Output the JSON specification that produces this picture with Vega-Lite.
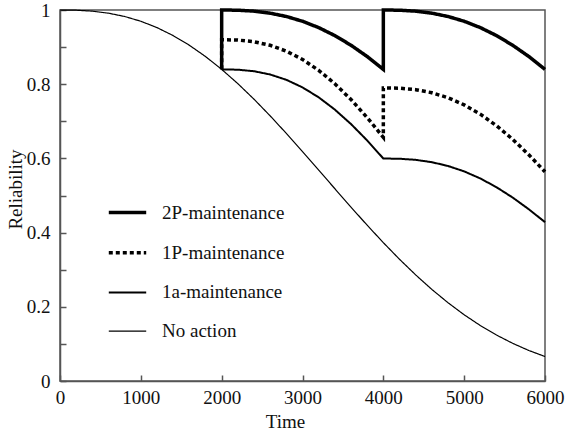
{
  "$schema": "https://vega.github.io/schema/vega-lite/v6.json",
  "autosize": "none",
  "width": 485,
  "height": 371,
  "padding": {"left": 60, "top": 10, "right": 27, "bottom": 58},
  "background": "white",
  "config": {
    "font": "Liberation Serif",
    "view": {"stroke": "#555", "strokeWidth": 1.5},
    "axis": {
      "labelFont": "Liberation Serif", "labelFontSize": 19, "labelColor": "#111",
      "titleFont": "Liberation Serif", "titleFontSize": 19, "titleFontWeight": "normal", "titleColor": "#111",
      "domainColor": "#555", "domainWidth": 1.5, "tickColor": "#555", "tickWidth": 1.5, "tickSize": -6, "grid": false
    }
  },
  "data": {"values": [
    {"series": "No action", "k": 0, "time": 0, "reliability": 1},
    {"series": "No action", "k": 1, "time": 200, "reliability": 0.99945},
    {"series": "No action", "k": 2, "time": 400, "reliability": 0.99689},
    {"series": "No action", "k": 3, "time": 600, "reliability": 0.99144},
    {"series": "No action", "k": 4, "time": 800, "reliability": 0.98251},
    {"series": "No action", "k": 5, "time": 1000, "reliability": 0.96965},
    {"series": "No action", "k": 6, "time": 1200, "reliability": 0.95254},
    {"series": "No action", "k": 7, "time": 1400, "reliability": 0.93101},
    {"series": "No action", "k": 8, "time": 1600, "reliability": 0.905},
    {"series": "No action", "k": 9, "time": 1800, "reliability": 0.8746},
    {"series": "No action", "k": 10, "time": 2000, "reliability": 0.84},
    {"series": "No action", "k": 11, "time": 2200, "reliability": 0.80148},
    {"series": "No action", "k": 12, "time": 2400, "reliability": 0.75957},
    {"series": "No action", "k": 13, "time": 2600, "reliability": 0.71464},
    {"series": "No action", "k": 14, "time": 2800, "reliability": 0.66739},
    {"series": "No action", "k": 15, "time": 3000, "reliability": 0.61847},
    {"series": "No action", "k": 16, "time": 3200, "reliability": 0.56857},
    {"series": "No action", "k": 17, "time": 3400, "reliability": 0.51839},
    {"series": "No action", "k": 18, "time": 3600, "reliability": 0.46861},
    {"series": "No action", "k": 19, "time": 3800, "reliability": 0.41993},
    {"series": "No action", "k": 20, "time": 4000, "reliability": 0.37291},
    {"series": "No action", "k": 21, "time": 4200, "reliability": 0.32812},
    {"series": "No action", "k": 22, "time": 4400, "reliability": 0.28601},
    {"series": "No action", "k": 23, "time": 4600, "reliability": 0.24688},
    {"series": "No action", "k": 24, "time": 4800, "reliability": 0.21099},
    {"series": "No action", "k": 25, "time": 5000, "reliability": 0.17852},
    {"series": "No action", "k": 26, "time": 5200, "reliability": 0.14949},
    {"series": "No action", "k": 27, "time": 5400, "reliability": 0.12386},
    {"series": "No action", "k": 28, "time": 5600, "reliability": 0.10153},
    {"series": "No action", "k": 29, "time": 5800, "reliability": 0.0823},
    {"series": "No action", "k": 30, "time": 6000, "reliability": 0.06598},

    {"series": "2P-maintenance", "k": 0, "time": 2000, "reliability": 0.84},
    {"series": "2P-maintenance", "k": 1, "time": 2000, "reliability": 1},
    {"series": "2P-maintenance", "k": 2, "time": 2200, "reliability": 0.99945},
    {"series": "2P-maintenance", "k": 3, "time": 2400, "reliability": 0.99689},
    {"series": "2P-maintenance", "k": 4, "time": 2600, "reliability": 0.99144},
    {"series": "2P-maintenance", "k": 5, "time": 2800, "reliability": 0.98251},
    {"series": "2P-maintenance", "k": 6, "time": 3000, "reliability": 0.96965},
    {"series": "2P-maintenance", "k": 7, "time": 3200, "reliability": 0.95254},
    {"series": "2P-maintenance", "k": 8, "time": 3400, "reliability": 0.93101},
    {"series": "2P-maintenance", "k": 9, "time": 3600, "reliability": 0.905},
    {"series": "2P-maintenance", "k": 10, "time": 3800, "reliability": 0.8746},
    {"series": "2P-maintenance", "k": 11, "time": 4000, "reliability": 0.84},
    {"series": "2P-maintenance", "k": 12, "time": 4000, "reliability": 1},
    {"series": "2P-maintenance", "k": 13, "time": 4200, "reliability": 0.99945},
    {"series": "2P-maintenance", "k": 14, "time": 4400, "reliability": 0.99689},
    {"series": "2P-maintenance", "k": 15, "time": 4600, "reliability": 0.99144},
    {"series": "2P-maintenance", "k": 16, "time": 4800, "reliability": 0.98251},
    {"series": "2P-maintenance", "k": 17, "time": 5000, "reliability": 0.96965},
    {"series": "2P-maintenance", "k": 18, "time": 5200, "reliability": 0.95254},
    {"series": "2P-maintenance", "k": 19, "time": 5400, "reliability": 0.93101},
    {"series": "2P-maintenance", "k": 20, "time": 5600, "reliability": 0.905},
    {"series": "2P-maintenance", "k": 21, "time": 5800, "reliability": 0.8746},
    {"series": "2P-maintenance", "k": 22, "time": 6000, "reliability": 0.84},

    {"series": "1P-maintenance", "k": 0, "time": 2000, "reliability": 0.84},
    {"series": "1P-maintenance", "k": 1, "time": 2000, "reliability": 0.92},
    {"series": "1P-maintenance", "k": 2, "time": 2200, "reliability": 0.91902},
    {"series": "1P-maintenance", "k": 3, "time": 2400, "reliability": 0.91447},
    {"series": "1P-maintenance", "k": 4, "time": 2600, "reliability": 0.90484},
    {"series": "1P-maintenance", "k": 5, "time": 2800, "reliability": 0.88915},
    {"series": "1P-maintenance", "k": 6, "time": 3000, "reliability": 0.86679},
    {"series": "1P-maintenance", "k": 7, "time": 3200, "reliability": 0.83748},
    {"series": "1P-maintenance", "k": 8, "time": 3400, "reliability": 0.80127},
    {"series": "1P-maintenance", "k": 9, "time": 3600, "reliability": 0.75858},
    {"series": "1P-maintenance", "k": 10, "time": 3800, "reliability": 0.71011},
    {"series": "1P-maintenance", "k": 11, "time": 4000, "reliability": 0.65677},
    {"series": "1P-maintenance", "k": 12, "time": 4000, "reliability": 0.79},
    {"series": "1P-maintenance", "k": 13, "time": 4200, "reliability": 0.78915},
    {"series": "1P-maintenance", "k": 14, "time": 4400, "reliability": 0.78525},
    {"series": "1P-maintenance", "k": 15, "time": 4600, "reliability": 0.77698},
    {"series": "1P-maintenance", "k": 16, "time": 4800, "reliability": 0.76351},
    {"series": "1P-maintenance", "k": 17, "time": 5000, "reliability": 0.74431},
    {"series": "1P-maintenance", "k": 18, "time": 5200, "reliability": 0.71914},
    {"series": "1P-maintenance", "k": 19, "time": 5400, "reliability": 0.68806},
    {"series": "1P-maintenance", "k": 20, "time": 5600, "reliability": 0.65139},
    {"series": "1P-maintenance", "k": 21, "time": 5800, "reliability": 0.60977},
    {"series": "1P-maintenance", "k": 22, "time": 6000, "reliability": 0.56397},

    {"series": "1a-maintenance", "k": 0, "time": 2000, "reliability": 0.84},
    {"series": "1a-maintenance", "k": 1, "time": 2200, "reliability": 0.8391},
    {"series": "1a-maintenance", "k": 2, "time": 2400, "reliability": 0.83495},
    {"series": "1a-maintenance", "k": 3, "time": 2600, "reliability": 0.82616},
    {"series": "1a-maintenance", "k": 4, "time": 2800, "reliability": 0.81183},
    {"series": "1a-maintenance", "k": 5, "time": 3000, "reliability": 0.79141},
    {"series": "1a-maintenance", "k": 6, "time": 3200, "reliability": 0.76465},
    {"series": "1a-maintenance", "k": 7, "time": 3400, "reliability": 0.7316},
    {"series": "1a-maintenance", "k": 8, "time": 3600, "reliability": 0.69261},
    {"series": "1a-maintenance", "k": 9, "time": 3800, "reliability": 0.64836},
    {"series": "1a-maintenance", "k": 10, "time": 4000, "reliability": 0.59966},
    {"series": "1a-maintenance", "k": 11, "time": 4200, "reliability": 0.59906},
    {"series": "1a-maintenance", "k": 12, "time": 4400, "reliability": 0.59609},
    {"series": "1a-maintenance", "k": 13, "time": 4600, "reliability": 0.58982},
    {"series": "1a-maintenance", "k": 14, "time": 4800, "reliability": 0.57959},
    {"series": "1a-maintenance", "k": 15, "time": 5000, "reliability": 0.56501},
    {"series": "1a-maintenance", "k": 16, "time": 5200, "reliability": 0.54591},
    {"series": "1a-maintenance", "k": 17, "time": 5400, "reliability": 0.52231},
    {"series": "1a-maintenance", "k": 18, "time": 5600, "reliability": 0.49448},
    {"series": "1a-maintenance", "k": 19, "time": 5800, "reliability": 0.46288},
    {"series": "1a-maintenance", "k": 20, "time": 6000, "reliability": 0.42811}
  ]},
  "mark": {"type": "line", "color": "black", "strokeCap": "butt", "strokeJoin": "miter"},
  "encoding": {
    "x": {
      "field": "time", "type": "quantitative",
      "scale": {"domain": [0, 6000], "nice": false},
      "axis": {
        "values": [0, 1000, 2000, 3000, 4000, 5000, 6000],
        "format": "d", "labelPadding": 13, "labelFlush": false,
        "title": "Time", "titleX": 225, "titleY": 40, "titleBaseline": "middle", "titleAlign": "center"
      }
    },
    "y": {
      "field": "reliability", "type": "quantitative",
      "scale": {"domain": [0, 1], "nice": false},
      "axis": {
        "values": [0, 0.1, 0.2, 0.3, 0.4, 0.5, 0.6, 0.7, 0.8, 0.9, 1],
        "labelExpr": "round(datum.value*10) % 2 == 0 ? format(datum.value, '~g') : ''",
        "labelPadding": 16, "labelFlush": false,
        "title": "Reliability", "titleX": -45, "titleY": 179, "titleAngle": -90, "titleBaseline": "middle", "titleAlign": "center"
      }
    },
    "order": {"field": "k", "type": "quantitative"},
    "detail": {"field": "series"},
    "strokeDash": {
      "field": "series", "type": "nominal",
      "scale": {"domain": ["2P-maintenance", "1P-maintenance", "1a-maintenance", "No action"], "range": [[1, 0], [4, 3], [1, 0], [1, 0]]},
      "legend": {"orient": "none", "legendX": 47, "legendY": 182, "title": null, "symbolType": "stroke", "symbolSize": 1400, "symbolStrokeColor": "black", "labelFont": "Liberation Serif", "labelFontSize": 19, "labelColor": "#111", "labelOffset": 14, "rowPadding": 9.2, "padding": 0, "labelLimit": 300}
    },
    "strokeWidth": {
      "field": "series", "type": "nominal",
      "scale": {"type": "ordinal", "domain": ["2P-maintenance", "1P-maintenance", "1a-maintenance", "No action"], "range": [3.5, 3.5, 2, 1.2]},
      "legend": {"orient": "none", "legendX": 47, "legendY": 182, "title": null, "symbolType": "stroke", "symbolSize": 1400, "symbolStrokeColor": "black", "labelFont": "Liberation Serif", "labelFontSize": 19, "labelColor": "#111", "labelOffset": 14, "rowPadding": 9.2, "padding": 0, "labelLimit": 300}
    }
  }
}
